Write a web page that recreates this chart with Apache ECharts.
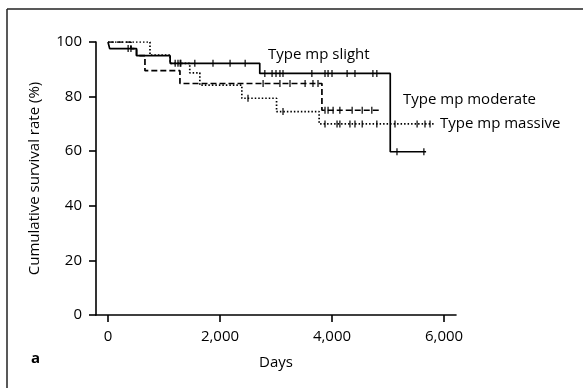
<!DOCTYPE html>
<html lang="en">
<head>
    <meta charset="UTF-8">
    <title>Cumulative survival</title>
    <script type="text/javascript" src="https://cdn.jsdelivr.net/npm/echarts@6/dist/echarts.min.js"></script>
    <style>
        body { margin: 0; background: #fff; }
        #main { width: 583px; height: 388px; }
    </style>
</head>
<body>
<div id="main"></div>
<script>
    // step points [day, survival %]
    let slightSteps = [[0, 100], [30, 97.6], [510, 95], [1110, 92.2], [2710, 88.5], [5040, 59.8], [5680, 59.8]];
    let moderateSteps = [[0, 100], [410, 97.6], [510, 95], [660, 89.5], [1285, 84.8], [3820, 75], [4860, 75]];
    let massiveSteps = [[0, 100], [750, 95.2], [1110, 92.2], [1460, 88.7], [1640, 84.2], [2390, 79.4], [3010, 74.5], [3770, 70], [5840, 70]];

    // censored cases (ticks on the curves)
    let slightCensor = [[360, 97.6], [410, 97.6], [1200, 92.2], [1290, 92.2], [1550, 92.2], [1875, 92.2], [2180, 92.2], [2450, 92.2],
        [2800, 88.5], [2930, 88.5], [3000, 88.5], [3070, 88.5], [3125, 88.5], [3640, 88.5], [3875, 88.5], [3930, 88.5], [4000, 88.5],
        [4270, 88.5], [4410, 88.5], [4730, 88.5], [4800, 88.5], [5160, 59.8], [5640, 59.8]];
    let moderateCensor = [[2770, 84.8], [3070, 84.8], [3250, 84.8], [3520, 84.8], [3660, 84.8], [3750, 84.8],
        [3875, 75], [3930, 75], [4020, 75], [4140, 75], [4360, 75], [4540, 75], [4710, 75]];
    let massiveCensor = [[1250, 92.2], [1300, 92.2], [2500, 79.4], [3125, 74.5], [3875, 70], [4090, 70], [4140, 70], [4320, 70],
        [4410, 70], [4540, 70], [4800, 70], [5125, 70], [5520, 70], [5660, 70], [5750, 70]];

    let xTicks = [0, 2000, 4000, 6000];

    let font = 'Open Sans';
    let ink = '#000';

    function stepLine(name, data, dash) {
        return {
            name: name,
            type: 'line',
            step: 'end',
            data: data,
            showSymbol: false,
            silent: true,
            lineStyle: { color: ink, width: 1.7, type: dash },
            z: 2
        };
    }
    function censorMarks(data) {
        return {
            type: 'scatter',
            data: data,
            symbol: 'rect',
            symbolSize: [1.5, 7],
            itemStyle: { color: ink },
            silent: true,
            z: 3
        };
    }

    var chart = echarts.init(document.getElementById('main'));
    var option = {
        animation: false,
        backgroundColor: '#fff',
        textStyle: { fontFamily: font },
        grid: { left: 96, right: 127, top: 42, bottom: 73 },
        xAxis: {
            type: 'value',
            min: -214,
            max: 6214,
            name: 'Days',
            nameLocation: 'middle',
            nameGap: 40,
            nameTextStyle: { fontSize: 15, color: ink, fontFamily: font },
            axisLine: { lineStyle: { color: ink, width: 1.6 } },
            axisTick: { customValues: xTicks, length: 7, lineStyle: { color: ink, width: 1.6 } },
            axisLabel: {
                customValues: xTicks,
                margin: 14,
                fontSize: 15,
                color: ink,
                formatter: function (v) { return v.toLocaleString('en-US'); }
            },
            splitLine: { show: false }
        },
        yAxis: {
            type: 'value',
            min: 0,
            max: 100,
            interval: 20,
            name: 'Cumulative survival rate (%)',
            nameLocation: 'middle',
            nameGap: 54,
            nameTextStyle: { fontSize: 15, color: ink, fontFamily: font },
            axisLine: { show: true, onZero: false, lineStyle: { color: ink, width: 1.6 } },
            axisTick: { show: true, length: 7, lineStyle: { color: ink, width: 1.6 } },
            axisLabel: { margin: 14, fontSize: 15, color: ink },
            splitLine: { show: false }
        },
        graphic: [
            { type: 'line', shape: { x1: 7, y1: 9, x2: 583, y2: 9 }, style: { stroke: '#222', lineWidth: 1.5 } },
            { type: 'line', shape: { x1: 7, y1: 9, x2: 7, y2: 388 }, style: { stroke: '#222', lineWidth: 1.5 } },
            { type: 'text', left: 31, top: 351, style: { text: 'a', font: 'bold 15px ' + font, fill: ink } },
            { type: 'text', left: 268, top: 47, style: { text: 'Type mp slight', font: '15px ' + font, fill: ink } },
            { type: 'text', left: 403, top: 92, style: { text: 'Type mp moderate', font: '15px ' + font, fill: ink } },
            { type: 'text', left: 440, top: 116, style: { text: 'Type mp massive', font: '15px ' + font, fill: ink } }
        ],
        series: [
            stepLine('Type mp slight', slightSteps, 'solid'),
            stepLine('Type mp moderate', moderateSteps, [6, 3]),
            stepLine('Type mp massive', massiveSteps, [1.5, 2]),
            censorMarks(slightCensor),
            censorMarks(moderateCensor),
            censorMarks(massiveCensor)
        ]
    };
    chart.setOption(option);
</script>
</body>
</html>
